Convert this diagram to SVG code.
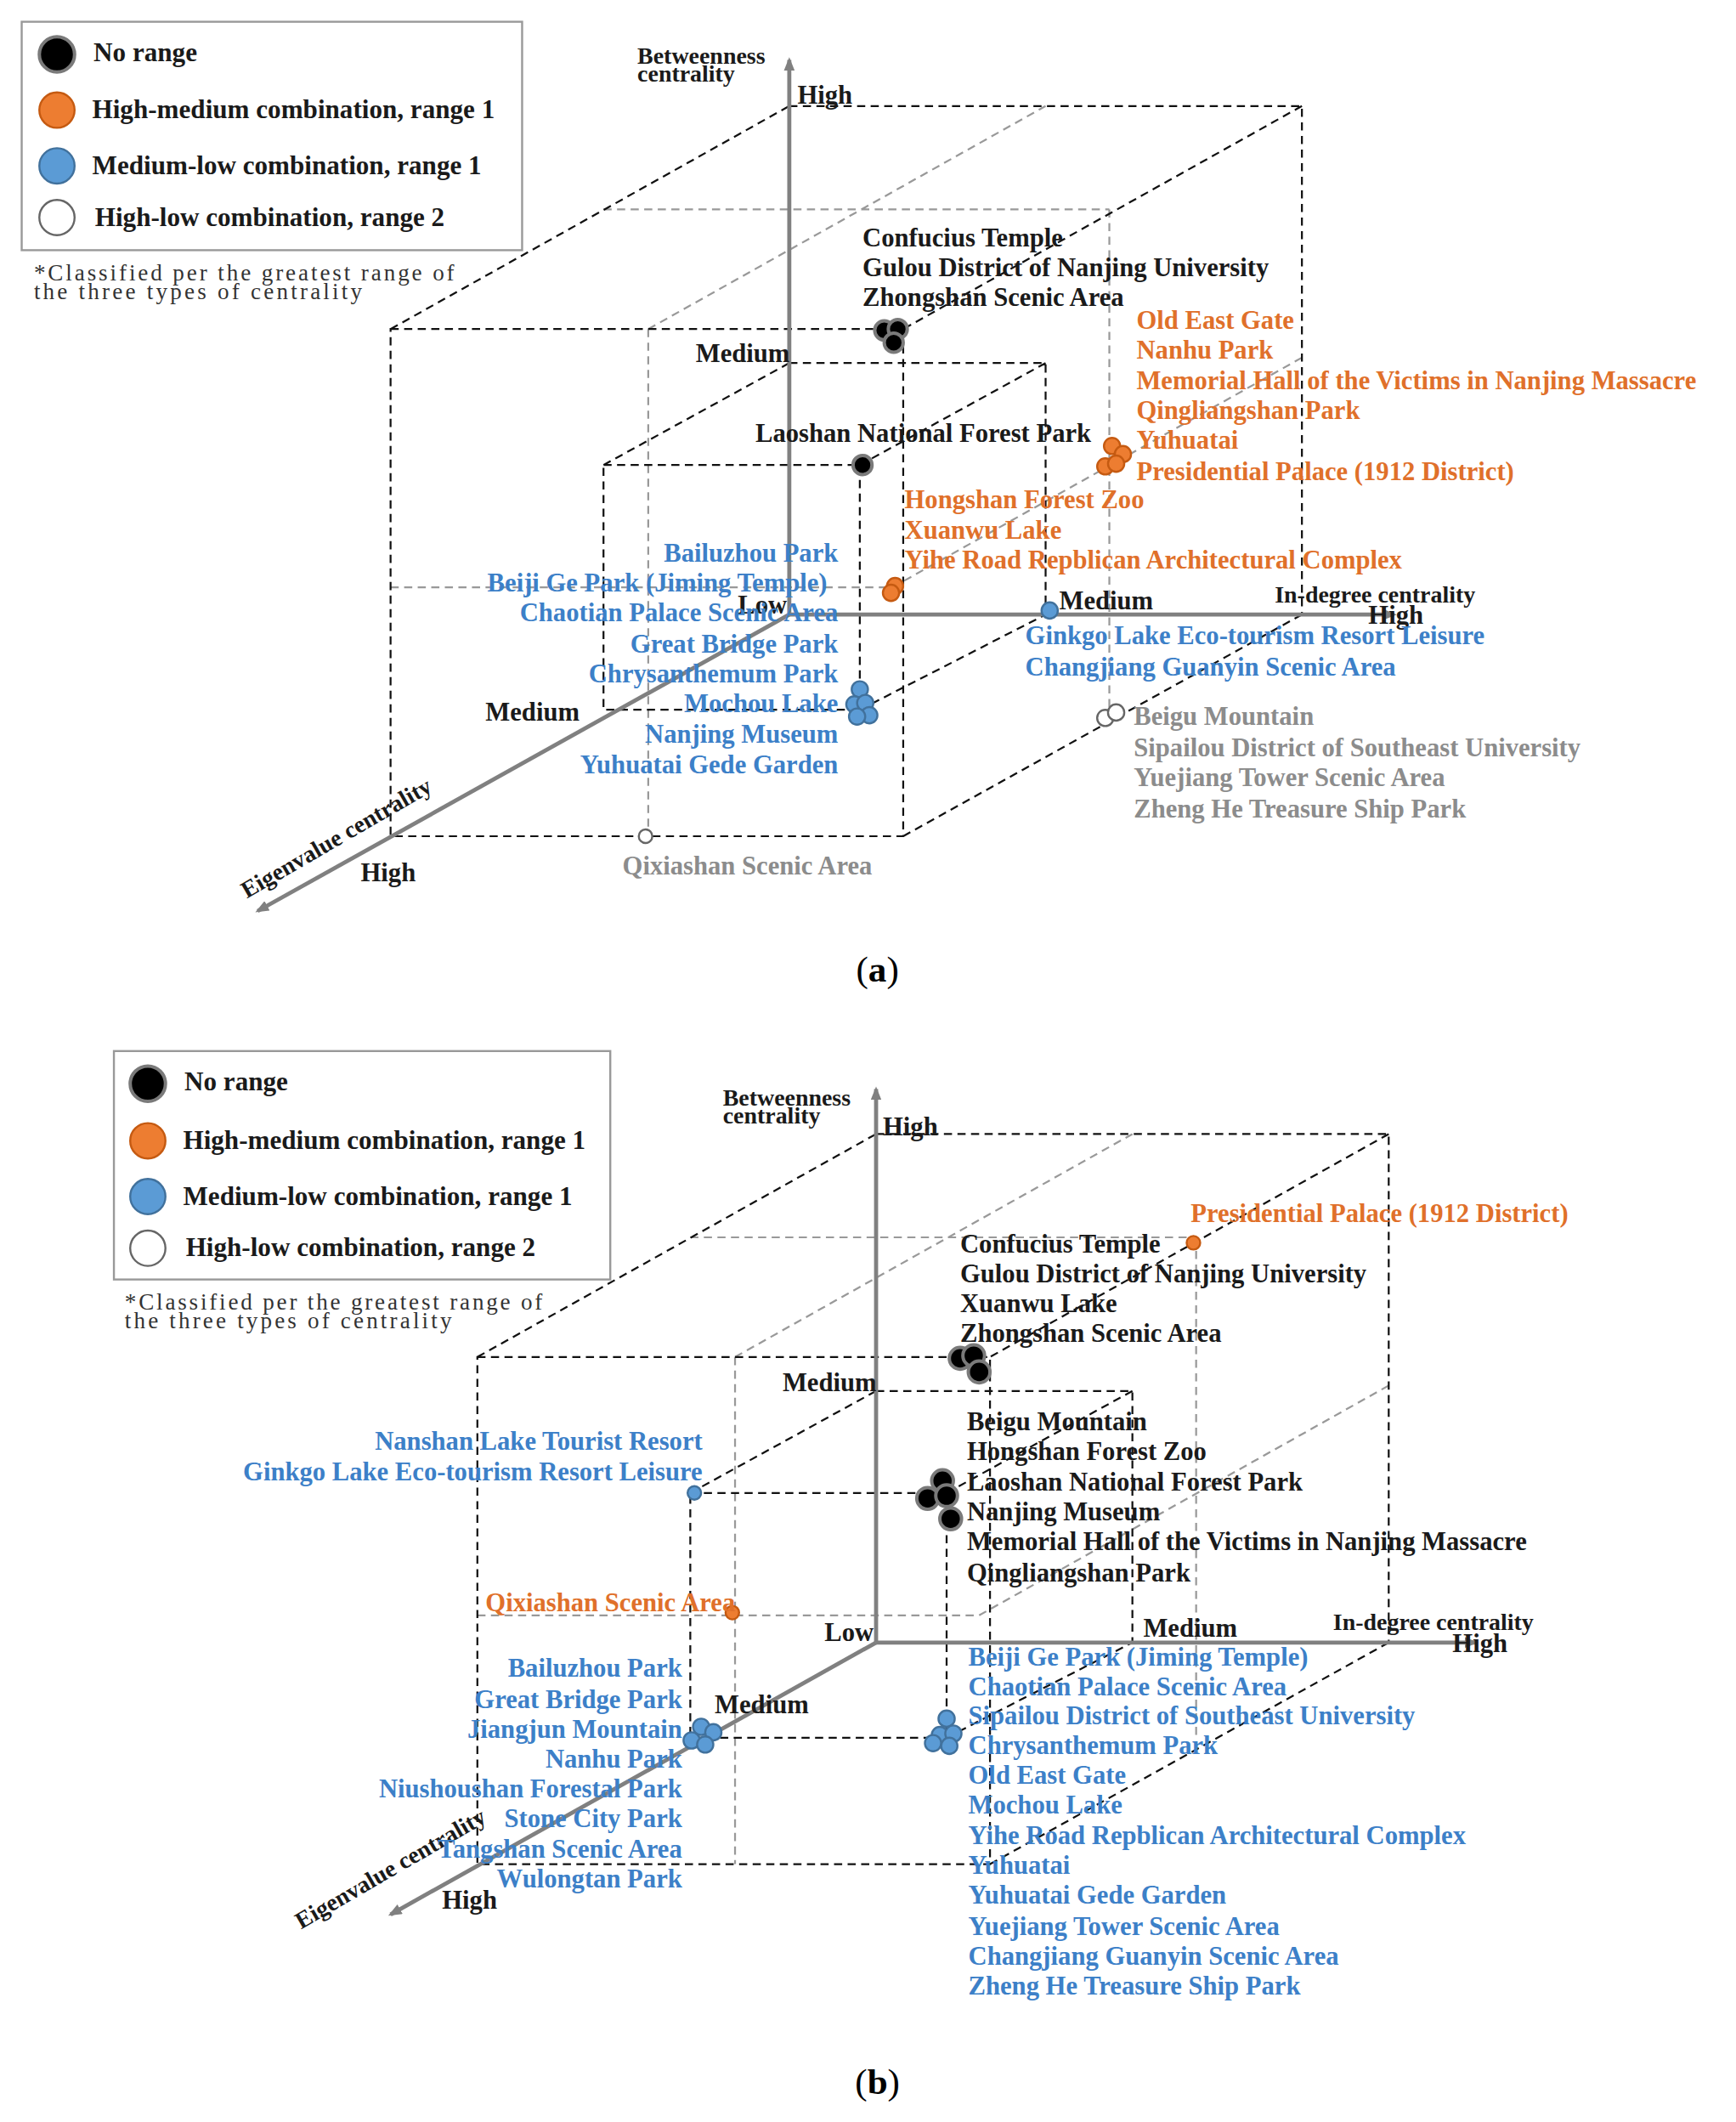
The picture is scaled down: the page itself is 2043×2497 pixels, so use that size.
<svg xmlns="http://www.w3.org/2000/svg" width="2043" height="2497" viewBox="0 0 2043 2497">
<style>
text{font-family:"Liberation Serif","DejaVu Serif",serif;font-weight:bold;font-size:19.2px}
.k{fill:#1a1a1a}.o{fill:#E0702A}.b{fill:#3C80C8}.g{fill:#8C8C8C}
.r{text-anchor:end}
.lg{font-size:19.5px}
.note{font-weight:normal;font-size:17px;fill:#333}
.ax{font-size:17.5px;fill:#1a1a1a}
.d{stroke:#111;stroke-width:1.4;stroke-dasharray:6 4;fill:none}
.dg{stroke:#999;stroke-width:1.4;stroke-dasharray:6 4;fill:none}
.axis{stroke:#808080;stroke-width:3;fill:none;marker-end:url(#ar)}
.pk{fill:#000;stroke:#7a7a7a;stroke-width:2.5}
.po{fill:#ED7D31;stroke:#C55A11;stroke-width:1.5}
.pb{fill:#5B9BD5;stroke:#41719C;stroke-width:1.5}
.pw{fill:#fff;stroke:#666;stroke-width:1.5}
.box{fill:#fff;stroke:#999;stroke-width:1.5}
</style>
<defs>
<marker id="ar" markerWidth="10" markerHeight="8" refX="8" refY="4" orient="auto" markerUnits="userSpaceOnUse"><path d="M0,0 L10,4 L0,8 Z" fill="#808080"/></marker>
<g id="cube">
<path class="dg" d="M478,242 L771,78 M445,154 L818,154 M818,154 L818,522 M478,242 L478,615 M288,432 L658,432 M658,432 L960,263"/>
<path class="d" d="M288,242 L666,242 L666,615 L288,615 Z M288,242 L582,78 M582,78 L960,78 L960,452 M960,78 L666,242 M666,615 L960,452"/>
<path class="d" d="M445,342 L634,342 L634,522 L445,522 Z M445,342 L582,267 M582,267 L771,267 L771,452 M771,267 L634,342 M634,522 L771,452"/>
</g>
</defs>
<g transform="scale(1.596,1.6)">
<g id="panel-a">
<g id="legend-a">
<rect class="box" x="16" y="16" width="369" height="168"/>
<circle class="pk" cx="42" cy="40" r="13"/><text class="k lg" x="69" y="45">No range</text>
<circle class="po" cx="42" cy="81" r="13"/><text class="k lg" x="68" y="87">High-medium combination, range 1</text>
<circle class="pb" cx="42" cy="122" r="13"/><text class="k lg" x="68" y="128">Medium-low combination, range 1</text>
<circle class="pw" cx="42" cy="160" r="13"/><text class="k lg" x="70" y="166">High-low combination, range 2</text>
<text class="note" x="25" y="206" textLength="310">*Classified  per the  greatest  range  of</text>
<text class="note" x="25" y="220" textLength="242">the  three  types  of  centrality</text>
</g>
<g id="connectors-a">
<use href="#cube"/>
<line class="axis" x1="582" y1="452" x2="582" y2="44"/>
<line class="axis" x1="582" y1="452" x2="1028" y2="452"/>
<line class="axis" x1="582" y1="452" x2="190" y2="670"/>
</g>
<g id="axis-labels-a">
<text class="ax" x="470" y="47">Betweenness</text><text class="ax" x="470" y="60">centrality</text>
<text class="k" x="588" y="76">High</text>
<text class="k" x="513" y="266">Medium</text>
<text class="k" x="544" y="451">Low</text>
<text class="k" x="781" y="448">Medium</text>
<text class="ax" x="940" y="443">In-degree centrality</text>
<text class="k" x="1009" y="459">High</text>
<text class="k" x="358" y="530">Medium</text>
<text class="k" x="266" y="648">High</text>
<text class="ax" transform="translate(182,661) rotate(-30)">Eigenvalue centrality</text>
</g>
<g id="points-a">
<circle class="pk" cx="652" cy="243" r="7"/><circle class="pk" cx="662" cy="242" r="7"/><circle class="pk" cx="659" cy="252" r="7"/>
<circle class="pk" cx="636" cy="342" r="7"/>
<circle class="po" cx="820" cy="328" r="6"/><circle class="po" cx="828" cy="334" r="6"/><circle class="po" cx="815" cy="343" r="6"/><circle class="po" cx="823" cy="341" r="6"/>
<circle class="po" cx="660" cy="431" r="6"/><circle class="po" cx="657" cy="436" r="6"/>
<circle class="pb" cx="774" cy="449" r="6"/>
<circle class="pb" cx="634" cy="507" r="6"/><circle class="pb" cx="630" cy="518" r="6"/><circle class="pb" cx="638" cy="517" r="6"/><circle class="pb" cx="641" cy="526" r="6"/><circle class="pb" cx="632" cy="527" r="6"/>
<circle class="pw" cx="815" cy="528" r="6"/><circle class="pw" cx="823" cy="524" r="6"/>
<circle class="pw" cx="476" cy="615" r="5"/>
</g>
<g id="labels-a">
<text class="k" x="636" y="181">Confucius Temple</text>
<text class="k" x="636" y="203">Gulou District of Nanjing University</text>
<text class="k" x="636" y="225">Zhongshan Scenic Area</text>
<text class="k" x="557" y="325">Laoshan National Forest Park</text>
<text class="o" x="838" y="242">Old East Gate</text>
<text class="o" x="838" y="264">Nanhu Park</text>
<text class="o" x="838" y="286">Memorial Hall of the Victims in Nanjing Massacre</text>
<text class="o" x="838" y="308">Qingliangshan Park</text>
<text class="o" x="838" y="330">Yuhuatai</text>
<text class="o" x="838" y="353">Presidential Palace (1912 District)</text>
<text class="o" x="667" y="374">Hongshan Forest Zoo</text>
<text class="o" x="667" y="396">Xuanwu Lake</text>
<text class="o" x="667" y="418">Yihe Road Repblican Architectural Complex</text>
<text class="b r" x="618" y="413">Bailuzhou Park</text>
<text class="b r" x="610" y="435">Beiji Ge Park (Jiming Temple)</text>
<text class="b r" x="618" y="457">Chaotian Palace Scenic Area</text>
<text class="b r" x="618" y="480">Great Bridge Park</text>
<text class="b r" x="618" y="502">Chrysanthemum Park</text>
<text class="b r" x="618" y="524">Mochou Lake</text>
<text class="b r" x="618" y="546">Nanjing Museum</text>
<text class="b r" x="618" y="569">Yuhuatai Gede Garden</text>
<text class="b" x="756" y="474">Ginkgo Lake Eco-tourism Resort Leisure</text>
<text class="b" x="756" y="497">Changjiang Guanyin Scenic Area</text>
<text class="g" x="836" y="533">Beigu Mountain</text>
<text class="g" x="836" y="556">Sipailou District of Southeast University</text>
<text class="g" x="836" y="578">Yuejiang Tower Scenic Area</text>
<text class="g" x="836" y="601">Zheng He Treasure Ship Park</text>
<text class="g" x="459" y="643">Qixiashan Scenic Area</text>
</g>
<text x="647" y="722" style="font-size:27px;font-weight:normal;text-anchor:middle">(<tspan font-weight="bold">a</tspan>)</text>
</g>
<g id="panel-b">
<g id="legend-b">
<rect class="box" x="84" y="773" width="366" height="168"/>
<circle class="pk" cx="109" cy="797" r="13"/><text class="k lg" x="136" y="802">No range</text>
<circle class="po" cx="109" cy="839" r="13"/><text class="k lg" x="135" y="845">High-medium combination, range 1</text>
<circle class="pb" cx="109" cy="880" r="13"/><text class="k lg" x="135" y="886">Medium-low combination, range 1</text>
<circle class="pw" cx="109" cy="918" r="13"/><text class="k lg" x="137" y="924">High-low combination, range 2</text>
<text class="note" x="92" y="963" textLength="308">*Classified  per the  greatest  range  of</text>
<text class="note" x="92" y="977" textLength="241">the  three  types  of  centrality</text>
</g>
<g id="connectors-b">
<use href="#cube" transform="translate(64,756)"/>
<line class="axis" x1="646" y1="1208" x2="646" y2="801"/>
<line class="axis" x1="646" y1="1208" x2="1088" y2="1208"/>
<line class="axis" x1="646" y1="1208" x2="288" y2="1408"/>
</g>
<g id="axis-labels-b">
<text class="ax" x="533" y="813">Betweenness</text><text class="ax" x="533" y="826">centrality</text>
<text class="k" x="651" y="835">High</text>
<text class="k" x="577" y="1023">Medium</text>
<text class="k" x="608" y="1207">Low</text>
<text class="k" x="843" y="1204">Medium</text>
<text class="ax" x="983" y="1199">In-degree centrality</text>
<text class="k" x="1071" y="1215">High</text>
<text class="k" x="527" y="1260">Medium</text>
<text class="k" x="326" y="1404">High</text>
<text class="ax" transform="translate(222,1419) rotate(-30)">Eigenvalue centrality</text>
</g>
<g id="points-b">
<circle class="po" cx="880" cy="914" r="5"/>
<circle class="pk" cx="708" cy="999" r="8"/><circle class="pk" cx="718" cy="997" r="8"/><circle class="pk" cx="722" cy="1009" r="8"/>
<circle class="pk" cx="695" cy="1089" r="8"/><circle class="pk" cx="684" cy="1102" r="8"/><circle class="pk" cx="698" cy="1100" r="8"/><circle class="pk" cx="701" cy="1117" r="8"/>
<circle class="pb" cx="512" cy="1098" r="5"/>
<circle class="po" cx="540" cy="1186" r="5"/>
<circle class="pb" cx="517" cy="1270" r="6"/><circle class="pb" cx="526" cy="1274" r="6"/><circle class="pb" cx="510" cy="1280" r="6"/><circle class="pb" cx="520" cy="1283" r="6"/>
<circle class="pb" cx="698" cy="1264" r="6"/><circle class="pb" cx="693" cy="1276" r="6"/><circle class="pb" cx="703" cy="1275" r="6"/><circle class="pb" cx="688" cy="1282" r="6"/><circle class="pb" cx="700" cy="1284" r="6"/>
</g>
<g id="labels-b">
<text class="o" x="878" y="899">Presidential Palace (1912 District)</text>
<text class="o" x="358" y="1185">Qixiashan Scenic Area</text>
<text class="k" x="708" y="921">Confucius Temple</text>
<text class="k" x="708" y="943">Gulou District of Nanjing University</text>
<text class="k" x="708" y="965">Xuanwu Lake</text>
<text class="k" x="708" y="987">Zhongshan Scenic Area</text>
<text class="k" x="713" y="1052">Beigu Mountain</text>
<text class="k" x="713" y="1074">Hongshan Forest Zoo</text>
<text class="k" x="713" y="1096">Laoshan National Forest Park</text>
<text class="k" x="713" y="1118">Nanjing Museum</text>
<text class="k" x="713" y="1140">Memorial Hall of the Victims in Nanjing Massacre</text>
<text class="k" x="713" y="1163">Qingliangshan Park</text>
<text class="b r" x="518" y="1066">Nanshan Lake Tourist Resort</text>
<text class="b r" x="518" y="1089">Ginkgo Lake Eco-tourism Resort Leisure</text>
<text class="b r" x="503" y="1233">Bailuzhou Park</text>
<text class="b r" x="503" y="1256">Great Bridge Park</text>
<text class="b r" x="503" y="1278">Jiangjun Mountain</text>
<text class="b r" x="503" y="1300">Nanhu Park</text>
<text class="b r" x="503" y="1322">Niushoushan Forestal Park</text>
<text class="b r" x="503" y="1344">Stone City Park</text>
<text class="b r" x="503" y="1366">Tangshan Scenic Area</text>
<text class="b r" x="503" y="1388">Wulongtan Park</text>
<text class="b" x="714" y="1225">Beiji Ge Park (Jiming Temple)</text>
<text class="b" x="714" y="1247">Chaotian Palace Scenic Area</text>
<text class="b" x="714" y="1268">Sipailou District of Southeast University</text>
<text class="b" x="714" y="1290">Chrysanthemum Park</text>
<text class="b" x="714" y="1312">Old East Gate</text>
<text class="b" x="714" y="1334">Mochou Lake</text>
<text class="b" x="714" y="1356">Yihe Road Repblican Architectural Complex</text>
<text class="b" x="714" y="1378">Yuhuatai</text>
<text class="b" x="714" y="1400">Yuhuatai Gede Garden</text>
<text class="b" x="714" y="1423">Yuejiang Tower Scenic Area</text>
<text class="b" x="714" y="1445">Changjiang Guanyin Scenic Area</text>
<text class="b" x="714" y="1467">Zheng He Treasure Ship Park</text>
</g>
<text x="647" y="1540" style="font-size:27px;font-weight:normal;text-anchor:middle">(<tspan font-weight="bold">b</tspan>)</text>
</g>
</g>
</svg>
